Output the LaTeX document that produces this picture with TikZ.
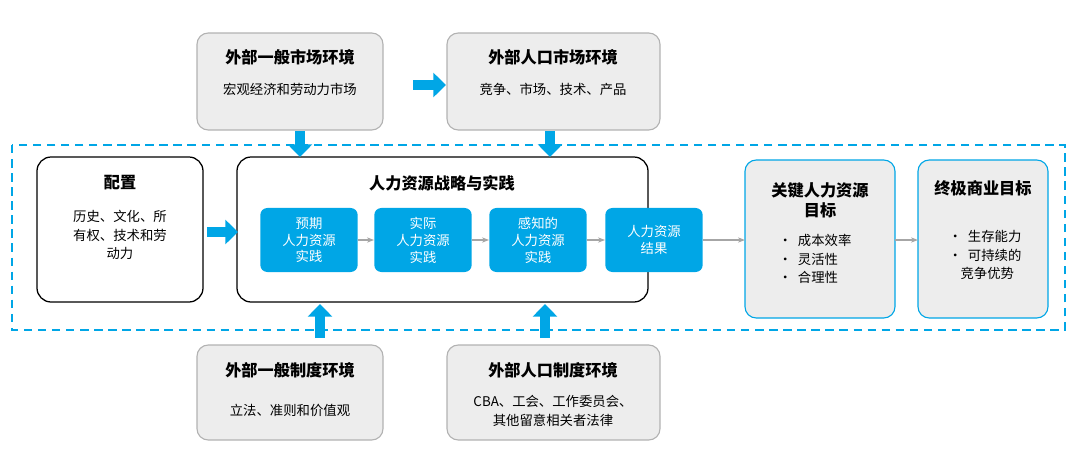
\documentclass[tikz,border=0pt]{standalone}
\usepackage{fontspec}
\setmainfont{Noto Sans CJK SC}
\usetikzlibrary{positioning}
\usetikzlibrary{arrows.meta}
\definecolor{hrblue}{HTML}{00A6E6}
\definecolor{boxgray}{HTML}{EDEDED}
\tikzset{
  envbox/.style={draw=gray!60,fill=boxgray,rounded corners=8pt,line width=0.8pt},
  outbox/.style={draw=hrblue,fill=boxgray,rounded corners=8pt,line width=0.8pt},
  plainbox/.style={draw=black,fill=white,rounded corners=10pt,line width=0.9pt},
  stepbox/.style={fill=hrblue,rounded corners=5pt,text=white,align=center,font=\fontsize{9.5}{12}\selectfont},
  ttl/.style={font=\fontsize{11.5}{14}\selectfont\bfseries,align=center},
  txt/.style={font=\fontsize{9.5}{13}\selectfont,align=center},
  fat/.style={draw=hrblue,line width=7pt,-{Triangle[length=9pt,width=17pt]}},
  thin/.style={draw=gray!70,line width=0.8pt,-{Stealth[length=5pt]}}
}
\begin{document}
\begin{tikzpicture}[x=0.025cm,y=-0.025cm]
 \useasboundingbox (0,0) rectangle (1080,462);
 % dashed frame
 \draw[hrblue,dashed,line width=1pt,dash pattern=on 6pt off 4pt] (12,145) rectangle (1065,330);
 % environments
 \draw[envbox] (197,33) rectangle (383,130);
 \draw[envbox] (447,33) rectangle (660,130);
 \draw[envbox] (197,345) rectangle (383,440);
 \draw[envbox] (447,345) rectangle (660,440);
 \node[ttl] (mkt) at (290,57) {外部一般市场环境};
 \node[txt] at (290,89) {宏观经济和劳动力市场};
 \node[ttl] (pmkt) at (553,57) {外部人口市场环境};
 \node[txt] at (553,89) {竞争、市场、技术、产品};
 \node[ttl] (inst) at (290,370) {外部一般制度环境};
 \node[txt] at (290,410) {立法、准则和价值观};
 \node[ttl] (pinst) at (553,370) {外部人口制度环境};
 \node[txt] at (553,411) {CBA、工会、工作委员会、\\其他留意相关者法律};
 % left and main boxes
 \draw[plainbox] (37,157) rectangle (203,302);
 \node[ttl] (conf) at (120,183) {配置};
 \node[txt] at (120,235) {历史、文化、所\\有权、技术和劳\\动力};
 \draw[plainbox] (237,157) rectangle (648,302);
 \node[ttl] (main) at (442,183) {人力资源战略与实践};
 \node[stepbox,minimum width=98\pgflinewidth,text width=2.2cm,minimum height=1.6cm] (s1) at (309,240) {预期\\人力资源\\实践};
 \node[stepbox,text width=2.2cm,minimum height=1.6cm] (s2) at (423,240) {实际\\人力资源\\实践};
 \node[stepbox,text width=2.2cm,minimum height=1.6cm] (s3) at (538,240) {感知的\\人力资源\\实践};
 \node[stepbox,text width=2.2cm,minimum height=1.6cm] (s4) at (654,240) {人力资源\\结果};
 % goals
 \draw[outbox] (745,160) rectangle (895,318);
 \node[ttl] (key) at (820,200) {关键人力资源\\目标};
 \node[txt,align=left] (kl) at (815,259) {•\ \ 成本效率\\•\ \ 灵活性\\•\ \ 合理性};
 \draw[outbox] (918,160) rectangle (1048,318);
 \node[ttl] (ult) at (983,188) {终极商业目标};
 \node[txt,align=left] (ul) at (985,255) {•\ \ 生存能力\\•\ \ 可持续的\\\ \ \ \ 竞争优势};
 % connectors
 \draw[thin] (s1) -- (s2);
 \draw[thin] (s2) -- (s3);
 \draw[thin] (s3) -- (s4);
 \coordinate (kin) at (745,240);
 \coordinate (uin) at (918,240);
 \coordinate (uout) at (895,240);
 \draw[thin] (s4.east) -- (kin);
 \draw[thin] (uout) -- (uin);
 \coordinate (a1) at (413,85); \coordinate (a2) at (446,85);
 \draw[fat] (a1) -- (a2);
 \coordinate (c1) at (207,232); \coordinate (c2) at (238,232);
 \draw[fat] (c1) -- (c2);
 \coordinate (d1) at (300,131); \coordinate (d2) at (300,157);
 \draw[fat] (d1) -- (d2);
 \coordinate (e1) at (550,131); \coordinate (e2) at (550,157);
 \draw[fat] (e1) -- (e2);
 \coordinate (f1) at (320,338); \coordinate (f2) at (320,304);
 \draw[fat] (f1) -- (f2);
 \coordinate (g1) at (545,338); \coordinate (g2) at (545,304);
 \draw[fat] (g1) -- (g2);
\end{tikzpicture}
\end{document}
